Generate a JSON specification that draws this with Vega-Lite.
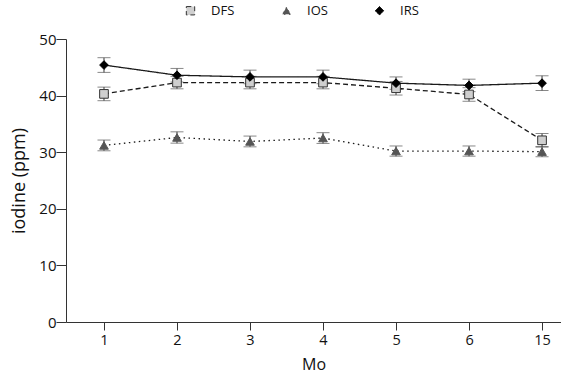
{
  "$schema": "https://vega.github.io/schema/vega-lite/v6.json",
  "width": 495,
  "height": 283,
  "autosize": {"type": "none"},
  "padding": {"left": 66, "top": 39, "right": 0, "bottom": 63},
  "background": "white",
  "config": {
    "font": "Open Sans",
    "view": {"stroke": null},
    "axis": {
      "domainColor": "#333",
      "tickColor": "#333",
      "labelColor": "#111",
      "titleColor": "#111",
      "titleFontWeight": "normal",
      "grid": false
    },
    "legend": {
      "orient": "none",
      "legendX": 118,
      "legendY": -35,
      "direction": "horizontal",
      "symbolSize": 70,
      "labelFontSize": 13,
      "labelColor": "#111",
      "labelOffset": 14,
      "columnPadding": 45,
      "symbolStrokeWidth": 1
    }
  },
  "data": {
    "values": [
      {"Mo": "1", "series": "DFS", "iodine": 40.3, "err": 1.2},
      {"Mo": "2", "series": "DFS", "iodine": 42.3, "err": 1.1},
      {"Mo": "3", "series": "DFS", "iodine": 42.3, "err": 1.1},
      {"Mo": "4", "series": "DFS", "iodine": 42.3, "err": 1.1},
      {"Mo": "5", "series": "DFS", "iodine": 41.3, "err": 1.2},
      {"Mo": "6", "series": "DFS", "iodine": 40.2, "err": 1.2},
      {"Mo": "15", "series": "DFS", "iodine": 32.1, "err": 1.2},
      {"Mo": "1", "series": "IOS", "iodine": 31.2, "err": 0.95},
      {"Mo": "2", "series": "IOS", "iodine": 32.6, "err": 1.0},
      {"Mo": "3", "series": "IOS", "iodine": 31.9, "err": 0.95},
      {"Mo": "4", "series": "IOS", "iodine": 32.5, "err": 0.95},
      {"Mo": "5", "series": "IOS", "iodine": 30.2, "err": 0.9},
      {"Mo": "6", "series": "IOS", "iodine": 30.2, "err": 0.9},
      {"Mo": "15", "series": "IOS", "iodine": 30.1, "err": 0.9},
      {"Mo": "1", "series": "IRS", "iodine": 45.4, "err": 1.3},
      {"Mo": "2", "series": "IRS", "iodine": 43.6, "err": 1.2},
      {"Mo": "3", "series": "IRS", "iodine": 43.3, "err": 1.2},
      {"Mo": "4", "series": "IRS", "iodine": 43.3, "err": 1.2},
      {"Mo": "5", "series": "IRS", "iodine": 42.2, "err": 1.1},
      {"Mo": "6", "series": "IRS", "iodine": 41.8, "err": 1.1},
      {"Mo": "15", "series": "IRS", "iodine": 42.2, "err": 1.3}
    ]
  },
  "encoding": {
    "x": {
      "field": "Mo",
      "type": "ordinal",
      "sort": ["1", "2", "3", "4", "5", "6", "15"],
      "scale": {"type": "point", "padding": 0.39, "align": 0.667},
      "axis": {
        "title": "Mo",
        "labelAngle": 0,
        "labelFontSize": 14.5,
        "titleFontSize": 16,
        "tickSize": 8,
        "labelPadding": 3,
        "titlePadding": 10,
        "encode": {"ticks": {"update": {"y2": {"value": -8}}}}
      }
    }
  },
  "layer": [
    {
      "mark": {
        "type": "errorbar",
        "ticks": {"size": 13, "color": "#555", "strokeWidth": 1.6},
        "rule": {"color": "#555", "strokeWidth": 1.2}
      },
      "encoding": {
        "y": {
          "field": "iodine",
          "type": "quantitative",
          "scale": {"domain": [0, 50]},
          "axis": {
            "title": "iodine (ppm)",
            "values": [0, 10, 20, 30, 40, 50],
            "labelFontSize": 15,
            "titleFontSize": 18,
            "tickSize": 10,
            "labelPadding": 0,
            "titlePadding": 10,
            "encode": {"ticks": {"update": {"x2": {"value": 10}}}}
          }
        },
        "yError": {"field": "err"},
        "detail": {"field": "series"}
      }
    },
    {
      "mark": {"type": "line", "strokeWidth": 1.3, "color": "#1a1a1a"},
      "encoding": {
        "y": {"field": "iodine", "type": "quantitative"},
        "strokeDash": {
          "field": "series",
          "type": "nominal",
          "scale": {"domain": ["DFS", "IOS", "IRS"], "range": [[5, 3], [1.5, 3.5], [1, 0]]},
          "legend": {"title": null}
        }
      }
    },
    {
      "mark": {"type": "point", "filled": true, "opacity": 1, "strokeWidth": 1, "size": 75},
      "encoding": {
        "y": {"field": "iodine", "type": "quantitative"},
        "shape": {
          "field": "series",
          "type": "nominal",
          "scale": {"domain": ["DFS", "IOS", "IRS"], "range": ["square", "triangle-up", "diamond"]},
          "legend": {"title": null}
        },
        "fill": {
          "field": "series",
          "type": "nominal",
          "scale": {"domain": ["DFS", "IOS", "IRS"], "range": ["#cfcfcf", "#555555", "#000000"]},
          "legend": {"title": null}
        },
        "stroke": {
          "field": "series",
          "type": "nominal",
          "scale": {"domain": ["DFS", "IOS", "IRS"], "range": ["#333333", "#555555", "#000000"]},
          "legend": {"title": null}
        }
      }
    }
  ]
}
